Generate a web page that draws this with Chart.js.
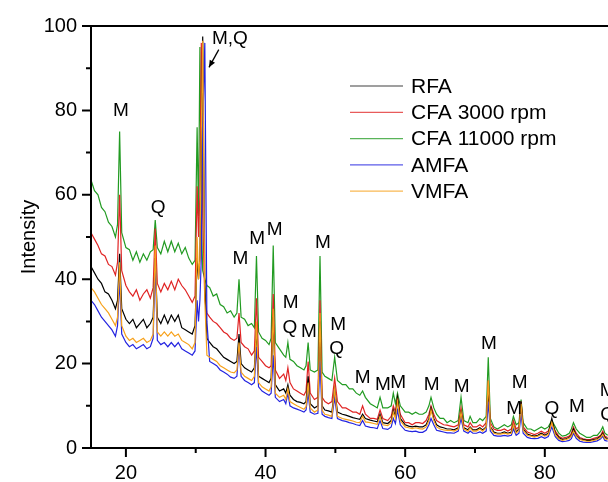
<!DOCTYPE html>
<html><head><meta charset="utf-8">
<script src="https://cdn.jsdelivr.net/npm/chart.js@4.4.1/dist/chart.umd.min.js"></script>
<style>html,body{margin:0;padding:0;background:#fff;overflow:hidden}canvas{display:block}</style>
</head><body>
<canvas id="c" width="608" height="482"></canvas>
<script>
// 2-theta positions (degrees)
const twoTheta = [
15,15.5,16,16.5,17,17.5,18,18.5,18.8,19.1,
19.4,20,20.5,21,21.5,22,22.5,23,23.5,23.9,
24.2,24.5,25,25.5,26,26.5,27,27.5,28,28.5,
29,29.5,29.9,30.2,30.4,30.6,30.8,31.0,31.3,31.6,
32,32.5,33,33.5,34,34.5,35,35.5,35.9,36.2,
36.5,37,37.5,38,38.4,38.7,39.0,39.5,40,40.5,
40.8,41.1,41.4,42,42.6,42.9,43.2,43.5,44,44.5,
45,45.5,45.8,46.1,46.4,47,47.5,47.8,48.1,48.5,
49,49.5,49.9,50.3,51,51.5,52,52.5,53,53.5,
53.9,54.3,55,55.5,56,56.4,56.8,57.5,58,58.3,
58.6,58.9,59.3,60,60.5,61,61.5,62,62.5,63,
63.4,63.7,64.1,64.5,65,65.5,66,66.5,67,67.6,
68,68.4,69,69.3,69.7,70.2,70.7,71.1,71.6,71.9,
72.2,72.7,73.2,73.7,74.2,74.7,75.2,75.5,75.9,76.3,
76.6,76.9,77.5,78,78.5,79,79.5,80,80.5,81,
81.5,82,82.5,83,83.5,83.8,84.1,84.5,85,85.5,
86,86.5,87,87.5,88,88.3,88.6,89];

const rfa = [
43,41.5,40,39,37,36.5,35,33,35,46,
33,30.5,29.5,30.5,28.5,29.5,30.5,28.5,29.5,31,
45,31,29.5,31.5,29.5,31.5,30,31.5,28.5,28,
27.5,27,29,45,40,45,70,97.5,40,26,
25,24,23.5,22.5,21.5,21,20.5,20,20.5,27,
20,19,18.5,18,19,28,17,16.5,16,15.5,
16.5,31,15,13.5,14,13,15,12.5,11.5,11,
10.8,10.5,11,17,10.5,9.5,10,30,10,9,
8.8,8.5,14,8.5,8,7.8,7.5,7.2,7,6.8,
8,7,6.6,6.4,6.2,8,6,5.8,6.5,9,
7.5,12,7,5.5,5.2,5,5.2,5,5,5.5,
7,9.5,7,5.5,5,4.8,4.5,4.5,4.3,4.8,
8.5,4.8,4.3,5,4.3,4.3,4.8,4.3,5,13,
5,3.8,3.5,3.5,3.8,3.5,3.8,5.5,3.8,4.5,
11,4.5,3.3,3,2.8,3,3.5,3,3.5,7,
3.5,2.5,2,2.2,2.5,3,4.5,3,2.2,2,
1.8,1.8,2,2.2,2.8,3.5,2.5,2.2];

const cfa3000 = [
51,49.5,48,46,45.5,43.5,43,41,44,60,
42,38.5,37,36,37.5,35,36.5,37.5,35.5,38,
52,39,37,39,37.5,39.5,37.5,40,38.5,37.5,
36,34.5,36,62,50,60,96,55,35,32,
31,30,29.5,28.5,27.5,27,26,25.5,26,32,
25,24,23.5,22,23,35.5,21.5,20.5,19.5,19,
19.5,36.5,18.5,16.5,17.5,16,19,15.5,14,13.5,
13,12.5,13.5,20.5,13,11.5,12,35,12,11,
10.5,11,16.5,11,9.5,9.5,9,8.5,8.5,8,
10,8,7,7,6.8,9,7,6.5,7.5,10,
8.5,12,8,6,6,5.5,6,6,5.8,6.5,
8,10,8,6.5,6,5.5,5.4,5.2,5,5.5,
9.5,5.5,5,6,5,5,5.5,5,6,16,
6,4.5,4.2,4.2,4.5,4,4.5,6.5,4.5,5,
11,5,3.8,3.5,3.2,3.5,4,3.5,4,6,
4,2.8,2.3,2.5,2.8,3.5,5,3.5,2.5,2.2,
2,2,2.3,2.5,3,4,2.8,2.5];

const cfa11000 = [
63.5,61,60,57,56,53.5,52.5,50,53,75,
51,47.5,47,44.5,46.5,44,46,44.5,46.5,47,
54,47.5,46,49,46.5,49,46.5,48.5,46,47.5,
45,43.5,44.5,76,55,95,55,42,40,38.5,
38,36,36.5,34,33.5,32,32.5,31,32,40,
31,30.5,29,29.5,28.5,45.5,27.5,26,25.5,24.5,
26,48,25,23.5,22,21.5,25,21,20.5,19.5,
19,18.5,19.5,25,18.5,18,18.5,45.5,18,17,
16.5,16,21.5,16,15,15,14,14,13,12.5,
13.5,12,10.5,10,9.5,12,9.5,9.5,10,13,
10.5,13,10,8.5,8.5,8,8.5,8,8,8.5,
10,12,9.5,8,7,7,6,6.5,6,6.5,
12,6.5,6,7.5,6,6,7,6.5,7.5,21.5,
7,5,4.5,5,5.5,5,5.5,7.5,5.5,6,
11.5,6,4.5,4.5,4,4.5,5,4.5,5,6.5,
5,3.5,2.8,3,3.5,4.5,6,4.5,3.5,3,
2.5,2.5,3,3,4,5,3.5,3];

const amfa = [
35,34,32.5,31,30,29,28,26.5,29,40,
27,25,24,24.5,23.5,24,24.5,23.5,24,26,
44,25.5,24.5,25,24,25,24,25,23.5,23,
22.5,22,23,35,30,35,45,75,96,30,
20.5,20,19.5,18.5,18,17.5,16.8,16.5,17,24,
17,16,15.5,15,15.5,24,14.5,13.5,13,12.5,
13,22,12,11,11.5,10.5,13,10,9.5,9.2,
8.9,8.5,9,13,8.5,8,8.2,20.5,8,7.5,
7.2,7,12,7,6.5,6.3,6,5.8,5.5,5.3,
6.5,5.2,4.9,4.8,4.6,6.5,4.6,4.4,5,7,
5.8,9,5.5,4.2,4,3.9,4,3.7,3.7,4.2,
5.5,7,5.5,4.2,4,3.8,3.6,3.6,3.5,4,
7,4,3.5,4,3.5,3.5,3.8,3.5,4,11,
4,3,2.8,2.8,3,2.8,3,4.5,3,3.5,
8,3.5,2.5,2.3,2.2,2.3,2.7,2.3,2.7,5,
2.7,1.8,1.5,1.6,1.8,2.2,3.5,2.3,1.6,1.4,
1.3,1.3,1.5,1.7,2.2,2.8,1.8,1.6];

const vmfa = [
38,37,35.5,34,33,32,30.5,29,31,44,
29,26.5,25.5,26,25,25.5,26,25,25.5,27,
48,27.5,26.5,27.5,26.5,27.5,26.5,27,25.5,25,
24.5,23.5,25,50,40,45,75,96.5,35,22,
21.5,21,20.5,19.5,19,18.5,18,17.8,18.5,25,
18,17,16.5,16,17,30,15.5,14.5,14,13.5,
14.5,33,13,12,12.5,11.5,14,11,10.5,10,
9.6,9.2,9.8,15.5,9.5,8.5,9,32,9,8,
7.8,7.5,14,7.5,7,6.8,6.6,6.4,6.1,6,
7.5,6.2,6,5.8,5.6,7.5,5.5,5.3,6,8.5,
7,11,6.5,5,4.8,4.6,4.8,4.6,4.5,5,
6.5,9,6.5,5,4.5,4.3,4.2,4.2,4,4.5,
8.5,4.5,4,4.8,4,4,4.5,4,4.8,16,
4.8,3.5,3.3,3.3,3.5,3.3,3.5,5.5,3.5,4.2,
10.5,4.2,3,2.8,2.6,2.8,3.2,2.8,3.2,6,
3.2,2.2,1.8,2,2.3,2.8,4,2.8,2,1.8,
1.6,1.6,1.8,2,2.5,3.2,2.2,2];

const seriesNames = ['RFA','CFA 3000 rpm','CFA 11000 rpm','AMFA','VMFA'];
const xTickLabels = [20,40,60,80];
const xMinorTicks = [30,50,70];
const yTickLabels = [0,20,40,60,80,100];
const yMinorTicks = [10,30,50,70,90];
// phase annotations (text, 2theta, intensity)
const peakText = ['M','Q','M,Q','M','M','M','M','Q','M','M','M','Q','M','M','M','M','M','M','M','M','Q','M','M','Q'];
const peakX =    [19.3,24.6,34.9,36.4,38.8,41.3,43.6,43.5,46.2,48.2,50.4,50.2,53.9,56.8,59.0,63.8,68.1,72.0,76.4,75.6,81.0,84.6,89.0,89.0];
const peakY =    [79.9,56.9,96.9,44.8,49.5,51.8,34.3,28.4,27.5,48.7,29.1,23.5,16.7,14.9,15.5,14.9,14.6,24.6,15.5,9.4,9.4,9.7,13.6,7.8];
const arrowFrom = [33.3,94.4];
const arrowTo = [31.9,90.2];

const FONT = "'Liberation Sans', Arial, sans-serif";
const colors = ['#000000','#e02424','#229b22','#2424e0','#f7a11a'];
const drawOrder = [3,4,5,2,1];
const seriesData = [rfa,cfa3000,cfa11000,amfa,vmfa];

const frame = {
  id:'frame',
  afterDatasetsDraw(chart){
    const {ctx, chartArea:a, scales:{x,y}} = chart;
    ctx.save();
    ctx.strokeStyle='#000'; ctx.lineWidth=2;
    ctx.beginPath();
    ctx.moveTo(chart.width+2, a.top); ctx.lineTo(a.left, a.top);
    ctx.lineTo(a.left, a.bottom); ctx.lineTo(chart.width+2, a.bottom);
    ctx.stroke();
    ctx.beginPath();
    xTickLabels.forEach(v=>{const p=x.getPixelForValue(v); ctx.moveTo(p,a.bottom); ctx.lineTo(p,a.bottom+9);});
    xMinorTicks.forEach(v=>{const p=x.getPixelForValue(v); ctx.moveTo(p,a.bottom); ctx.lineTo(p,a.bottom+5);});
    yTickLabels.forEach(v=>{const p=y.getPixelForValue(v); ctx.moveTo(a.left,p); ctx.lineTo(a.left-9,p);});
    yMinorTicks.forEach(v=>{const p=y.getPixelForValue(v); ctx.moveTo(a.left,p); ctx.lineTo(a.left-5,p);});
    ctx.stroke();
    ctx.restore();
  },
  afterDraw(chart){
    const {ctx, scales:{x,y}} = chart;
    ctx.save();
    ctx.fillStyle='#000';
    ctx.font = '19px ' + FONT;
    ctx.textAlign='center'; ctx.textBaseline='middle';
    peakText.forEach((t,i)=>ctx.fillText(t, x.getPixelForValue(peakX[i]), y.getPixelForValue(peakY[i])));
    const x1=x.getPixelForValue(arrowFrom[0]), y1=y.getPixelForValue(arrowFrom[1]);
    const x2=x.getPixelForValue(arrowTo[0]), y2=y.getPixelForValue(arrowTo[1]);
    ctx.strokeStyle='#000'; ctx.lineWidth=1.3;
    ctx.beginPath(); ctx.moveTo(x1,y1); ctx.lineTo(x2,y2); ctx.stroke();
    const ang=Math.atan2(y2-y1,x2-x1), L=7, W=3;
    ctx.beginPath();
    ctx.moveTo(x2,y2);
    ctx.lineTo(x2-L*Math.cos(ang)+W*Math.sin(ang), y2-L*Math.sin(ang)-W*Math.cos(ang));
    ctx.lineTo(x2-L*Math.cos(ang)-W*Math.sin(ang), y2-L*Math.sin(ang)+W*Math.cos(ang));
    ctx.closePath(); ctx.fill();
    ctx.font = '21px ' + FONT;
    ctx.textAlign='left';
    chart.data.datasets.forEach((ds,i)=>{
      const ly = 86 + i*26.3;
      ctx.globalAlpha = 0.75;
      ctx.strokeStyle = ds.borderColor; ctx.lineWidth = 1.2;
      ctx.beginPath(); ctx.moveTo(350,ly); ctx.lineTo(403,ly); ctx.stroke();
      ctx.globalAlpha = 1;
      ctx.fillStyle='#000';
      ctx.fillText(ds.label, 411, ly+1);
    });
    ctx.restore();
  }
};

new Chart(document.getElementById('c'), {
  type:'line',
  data:{datasets: seriesNames.map((n,i)=>({
    label:n,
    data: twoTheta.map((t,j)=>({x:t, y:seriesData[i][j]})),
    borderColor: colors[i], backgroundColor: colors[i],
    borderWidth:1.2, pointRadius:0, tension:0, fill:false, order: drawOrder[i]
  }))},
  options:{
    responsive:false, animation:false, devicePixelRatio:1,
    layout:{padding:{top:21,right:0,left:0,bottom:0}},
    plugins:{legend:{display:false}, tooltip:{enabled:false}},
    scales:{
      x:{type:'linear', min:15, max:89.05,
        grid:{display:false, drawTicks:false}, border:{display:false},
        afterBuildTicks: s=>{ s.ticks = xTickLabels.map(v=>({value:v})); },
        afterFit: s=>{ s.height = 34; },
        ticks:{padding:13, color:'#000', font:{family:FONT, size:20}, maxRotation:0, autoSkip:false}},
      y:{type:'linear', min:0, max:100,
        grid:{display:false, drawTicks:false}, border:{display:false},
        afterBuildTicks: s=>{ s.ticks = yTickLabels.map(v=>({value:v})); },
        afterFit: s=>{ s.width = 91; },
        ticks:{padding:14, color:'#000', font:{family:FONT, size:20}},
        title:{display:true, text:'Intensity', color:'#000', font:{family:FONT, size:20}, padding:{top:17,bottom:0}}}
    }
  },
  plugins:[frame]
});
</script>
</body></html>
